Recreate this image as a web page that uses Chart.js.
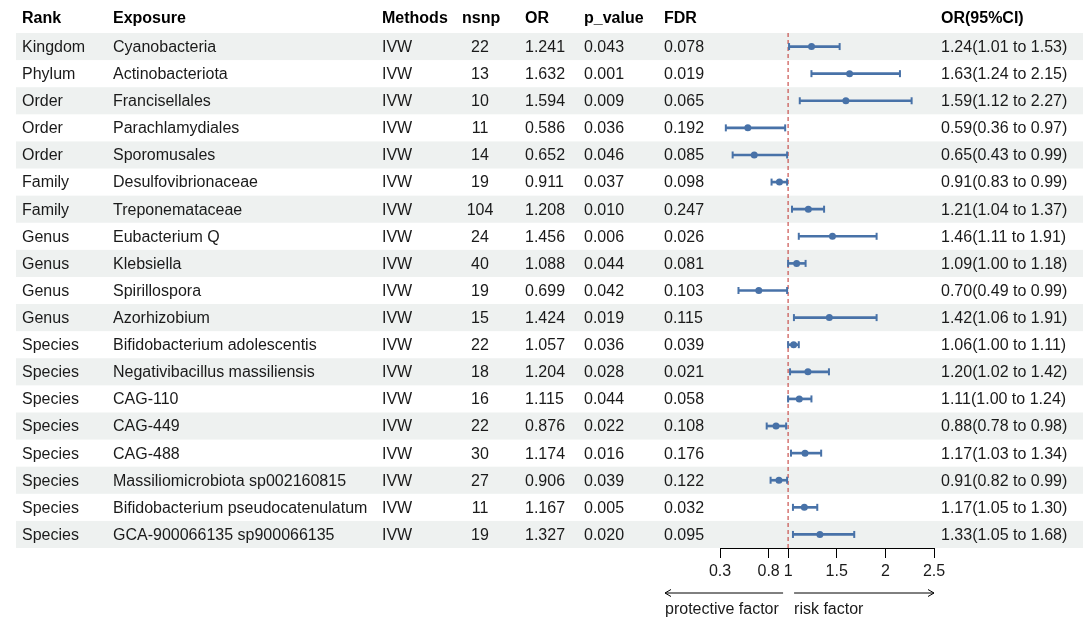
<!DOCTYPE html>
<html>
<head>
<meta charset="utf-8">
<title>MR forest plot</title>
<script src="https://cdn.jsdelivr.net/npm/chart.js@4.4.1/dist/chart.umd.min.js"></script>
<style>
    html, body { margin: 0; padding: 0; background: #fff; }
    #wrap { width: 1092px; height: 625px; }
</style>
</head>
<body>
<div id="wrap"><canvas id="forest" width="1092" height="625"></canvas></div>
<script>
(function () {
    'use strict';

    // ---- data ----
    var ranks = ['Kingdom', 'Phylum', 'Order', 'Order', 'Order', 'Family', 'Family',
        'Genus', 'Genus', 'Genus', 'Genus', 'Species', 'Species', 'Species', 'Species',
        'Species', 'Species', 'Species', 'Species'];
    var exposures = ['Cyanobacteria', 'Actinobacteriota', 'Francisellales', 'Parachlamydiales',
        'Sporomusales', 'Desulfovibrionaceae', 'Treponemataceae', 'Eubacterium Q', 'Klebsiella',
        'Spirillospora', 'Azorhizobium', 'Bifidobacterium adolescentis',
        'Negativibacillus massiliensis', 'CAG-110', 'CAG-449', 'CAG-488',
        'Massiliomicrobiota sp002160815', 'Bifidobacterium pseudocatenulatum',
        'GCA-900066135 sp900066135'];
    var methods = ['IVW', 'IVW', 'IVW', 'IVW', 'IVW', 'IVW', 'IVW', 'IVW', 'IVW', 'IVW',
        'IVW', 'IVW', 'IVW', 'IVW', 'IVW', 'IVW', 'IVW', 'IVW', 'IVW'];
    var nsnp = [22, 13, 10, 11, 14, 19, 104, 24, 40, 19, 15, 22, 18, 16, 22, 30, 27, 11, 19];
    var orValues = [1.241, 1.632, 1.594, 0.586, 0.652, 0.911, 1.208, 1.456, 1.088, 0.699,
        1.424, 1.057, 1.204, 1.115, 0.876, 1.174, 0.906, 1.167, 1.327];
    var pValues = ['0.043', '0.001', '0.009', '0.036', '0.046', '0.037', '0.010', '0.006',
        '0.044', '0.042', '0.019', '0.036', '0.028', '0.044', '0.022', '0.016', '0.039',
        '0.005', '0.020'];
    var fdrValues = ['0.078', '0.019', '0.065', '0.192', '0.085', '0.098', '0.247', '0.026',
        '0.081', '0.103', '0.115', '0.039', '0.021', '0.058', '0.108', '0.176', '0.122',
        '0.032', '0.095'];
    var ciLower = [1.01, 1.24, 1.12, 0.36, 0.43, 0.83, 1.04, 1.11, 1.00, 0.49, 1.06, 1.00,
        1.02, 1.00, 0.78, 1.03, 0.82, 1.05, 1.05];
    var ciUpper = [1.53, 2.15, 2.27, 0.97, 0.99, 0.99, 1.37, 1.91, 1.18, 0.99, 1.91, 1.11,
        1.42, 1.24, 0.98, 1.34, 0.99, 1.30, 1.68];
    var xTicks = [0.3, 0.8, 1, 1.5, 2, 2.5];
    var headers = ['Rank', 'Exposure', 'Methods', 'nsnp', 'OR', 'p_value', 'FDR', 'OR(95%CI)'];

    var FONT = '"Liberation Sans", Arial, Helvetica, sans-serif';
    var BLUE = '#4872a8';
    var TEXT = '#1a1a1a';

    // column x positions and alignment
    var cols = [
        { x: 22, align: 'left' },
        { x: 113, align: 'left' },
        { x: 382, align: 'left' },
        { x: 480, align: 'center', hx: 462, halign: 'left' },
        { x: 525, align: 'left' },
        { x: 584, align: 'left' },
        { x: 664, align: 'left' },
        { x: 941, align: 'left' }
    ];

    function rowCells(i) {
        return [
            ranks[i],
            exposures[i],
            methods[i],
            String(nsnp[i]),
            orValues[i].toFixed(3),
            pValues[i],
            fdrValues[i],
            orValues[i].toFixed(2) + '(' + ciLower[i].toFixed(2) + ' to ' + ciUpper[i].toFixed(2) + ')'
        ];
    }

    var tablePlugin = {
        id: 'forestTable',
        beforeDatasetsDraw: function (chart) {
            var ctx = chart.ctx;
            var yScale = chart.scales.y;
            var i, c;
            ctx.save();

            // striped rows
            ctx.fillStyle = '#eef1f0';
            for (i = 0; i < ranks.length; i++) {
                if (i % 2 !== 0) continue;
                var top = yScale.getPixelForValue(i + 0.5);
                var bot = yScale.getPixelForValue(i + 1.5);
                ctx.fillRect(16, top, 1083 - 16, bot - top);
            }

            ctx.textBaseline = 'middle';
            ctx.fillStyle = '#000';

            // header
            ctx.font = 'bold 16px ' + FONT;
            var hy = yScale.getPixelForValue(0) - 1;
            for (c = 0; c < headers.length; c++) {
                ctx.textAlign = cols[c].halign || cols[c].align;
                ctx.fillText(headers[c], cols[c].hx || cols[c].x, hy);
            }

            // body
            ctx.font = '16px ' + FONT;
            ctx.fillStyle = TEXT;
            for (i = 0; i < ranks.length; i++) {
                var cy = yScale.getPixelForValue(i + 1) + 1;
                var cells = rowCells(i);
                for (c = 0; c < cells.length; c++) {
                    ctx.textAlign = cols[c].align;
                    ctx.fillText(cells[c], cols[c].x, cy);
                }
            }
            ctx.restore();
        }
    };

    var arrowPlugin = {
        id: 'factorArrows',
        afterDraw: function (chart) {
            var ctx = chart.ctx;
            var xScale = chart.scales.x;
            var area = chart.chartArea;
            var one = xScale.getPixelForValue(1);
            var ay = 593;
            var lx0 = area.left - 55, lx1 = one - 5;
            var rx0 = one + 6, rx1 = area.right;

            ctx.save();
            ctx.strokeStyle = '#000';
            ctx.lineWidth = 1;
            ctx.beginPath();
            ctx.moveTo(lx0, ay); ctx.lineTo(lx1, ay);
            ctx.moveTo(lx0 + 6, ay - 3.5); ctx.lineTo(lx0, ay); ctx.lineTo(lx0 + 6, ay + 3.5);
            ctx.moveTo(rx0, ay); ctx.lineTo(rx1, ay);
            ctx.moveTo(rx1 - 6, ay - 3.5); ctx.lineTo(rx1, ay); ctx.lineTo(rx1 - 6, ay + 3.5);
            ctx.stroke();

            ctx.font = '16px ' + FONT;
            ctx.fillStyle = TEXT;
            ctx.textBaseline = 'middle';
            ctx.textAlign = 'left';
            ctx.fillText('protective factor', lx0, 610);
            ctx.fillText('risk factor', rx0, 610);
            ctx.restore();
        }
    };

    var whiskers = orValues.map(function (v, i) {
        return { x: [ciLower[i], ciUpper[i]], y: i + 1 };
    });
    var caps = [];
    orValues.forEach(function (v, i) {
        caps.push({ x: ciLower[i], y: i + 1 });
        caps.push({ x: ciUpper[i], y: i + 1 });
    });
    var points = orValues.map(function (v, i) {
        return { x: v, y: i + 1 };
    });

    new Chart(document.getElementById('forest').getContext('2d'), {
        type: 'scatter',
        data: {
            datasets: [
                {
                    type: 'bar',
                    indexAxis: 'y',
                    data: whiskers,
                    backgroundColor: BLUE,
                    borderWidth: 0,
                    borderSkipped: false,
                    barThickness: 2
                },
                {
                    data: caps,
                    pointStyle: 'line',
                    rotation: 90,
                    radius: 3.5,
                    borderColor: BLUE,
                    borderWidth: 2
                },
                {
                    data: points,
                    pointStyle: 'circle',
                    radius: 3.5,
                    backgroundColor: BLUE,
                    borderColor: BLUE,
                    borderWidth: 0
                },
                {
                    data: [{ x: 1, y: 0.5 }, { x: 1, y: ranks.length + 0.5 }],
                    showLine: true,
                    pointRadius: 0,
                    borderColor: '#c0302b',
                    borderWidth: 1,
                    borderDash: [4, 3]
                }
            ]
        },
        options: {
            responsive: false,
            animation: false,
            events: [],
            layout: { padding: { left: 720, right: 158, top: 33, bottom: 0 } },
            plugins: { legend: { display: false }, tooltip: { enabled: false } },
            scales: {
                x: {
                    type: 'linear',
                    min: 0.3,
                    max: 2.5,
                    offset: false,
                    afterBuildTicks: function (scale) {
                        scale.ticks = xTicks.map(function (v) { return { value: v }; });
                    },
                    afterFit: function (scale) { scale.height = 77; },
                    ticks: {
                        autoSkip: false,
                        maxRotation: 0,
                        color: TEXT,
                        font: { family: FONT, size: 16 },
                        padding: 4,
                        callback: function (value) { return String(value); }
                    },
                    grid: {
                        offset: false,
                        drawOnChartArea: false,
                        drawTicks: true,
                        tickLength: 10,
                        color: '#000'
                    },
                    border: { display: true, color: '#000', width: 1 }
                },
                y: {
                    type: 'linear',
                    reverse: true,
                    offset: false,
                    min: 0.5,
                    max: ranks.length + 0.5,
                    display: false,
                    grid: { offset: false }
                }
            }
        },
        plugins: [tablePlugin, arrowPlugin]
    });
})();
</script>
</body>
</html>
